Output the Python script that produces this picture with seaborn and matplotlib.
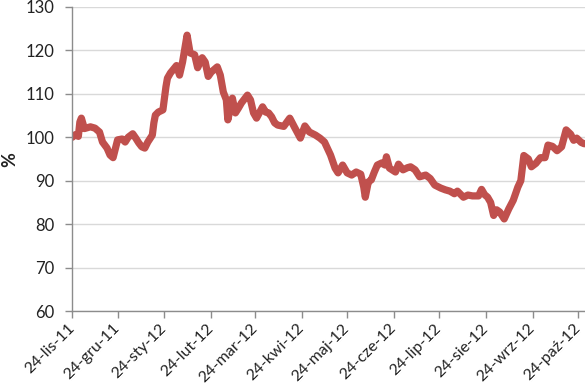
import pandas as pd
import matplotlib.pyplot as plt
import seaborn as sns

sns.set_theme(style="white")
plt.rcParams['font.family'] = ['Lato', 'DejaVu Sans']

# dane (indeks, %)
dates = [
    "2011-11-24", "2011-11-26", "2011-11-28", "2011-11-29", "2011-11-30",
    "2011-12-02", "2011-12-06", "2011-12-09", "2011-12-12", "2011-12-14",
    "2011-12-17", "2011-12-19", "2011-12-21", "2011-12-24", "2011-12-27",
    "2011-12-29", "2011-12-31", "2012-01-03", "2012-01-05", "2012-01-07",
    "2012-01-09", "2012-01-11", "2012-01-13", "2012-01-16", "2012-01-17",
    "2012-01-18", "2012-01-20", "2012-01-23", "2012-01-25", "2012-01-26",
    "2012-01-28", "2012-02-01", "2012-02-03", "2012-02-05", "2012-02-08",
    "2012-02-10", "2012-02-13", "2012-02-15", "2012-02-18", "2012-02-20",
    "2012-02-22", "2012-02-24", "2012-02-28", "2012-03-01", "2012-03-03",
    "2012-03-05", "2012-03-06", "2012-03-09", "2012-03-11", "2012-03-13",
    "2012-03-15", "2012-03-19", "2012-03-21", "2012-03-23", "2012-03-25",
    "2012-03-29", "2012-03-31", "2012-04-02", "2012-04-04", "2012-04-06",
    "2012-04-08", "2012-04-12", "2012-04-16", "2012-04-19", "2012-04-23",
    "2012-04-26", "2012-04-29", "2012-05-03", "2012-05-06", "2012-05-09",
    "2012-05-13", "2012-05-16", "2012-05-18", "2012-05-21", "2012-05-24",
    "2012-05-27", "2012-05-30", "2012-06-02", "2012-06-04", "2012-06-05",
    "2012-06-07", "2012-06-09", "2012-06-11", "2012-06-13", "2012-06-16",
    "2012-06-18", "2012-06-19", "2012-06-21", "2012-06-25", "2012-06-27",
    "2012-06-30", "2012-07-03", "2012-07-05", "2012-07-08", "2012-07-11",
    "2012-07-15", "2012-07-18", "2012-07-21", "2012-07-25", "2012-07-28",
    "2012-07-31", "2012-08-03", "2012-08-05", "2012-08-09", "2012-08-12",
    "2012-08-15", "2012-08-19", "2012-08-21", "2012-08-23", "2012-08-25",
    "2012-08-27", "2012-08-29", "2012-08-31", "2012-09-02", "2012-09-05",
    "2012-09-08", "2012-09-11", "2012-09-14", "2012-09-16", "2012-09-18",
    "2012-09-21", "2012-09-23", "2012-09-26", "2012-09-29", "2012-10-02",
    "2012-10-04", "2012-10-07", "2012-10-10", "2012-10-13", "2012-10-16",
    "2012-10-19", "2012-10-21", "2012-10-23", "2012-10-26", "2012-10-28",
]
values = [
    100.0, 100.6, 100.2, 103.5, 104.4,
    102.0, 102.4, 102.1, 101.2, 98.9,
    97.5, 95.9, 95.3, 99.4, 99.6,
    98.9, 100.0, 100.8, 99.8, 98.7,
    97.8, 97.5, 98.9, 100.5, 103.3,
    105.1, 105.8, 106.3, 111.6, 113.6,
    114.8, 116.5, 114.3, 117.3, 123.5,
    119.4, 119.0, 116.0, 118.3, 117.3,
    114.0, 115.0, 116.2, 114.3, 110.4,
    108.6, 104.0, 109.0, 105.6, 106.7,
    107.9, 109.7, 108.6, 105.6, 104.4,
    107.0, 105.8, 105.6, 104.7, 103.3,
    102.8, 102.5, 104.4, 102.4, 99.8,
    102.6, 101.2, 100.5, 99.8, 98.9,
    95.9, 92.9, 91.8, 93.6, 91.8,
    91.3, 92.0, 91.5, 88.5, 86.2,
    89.7, 90.2, 92.0, 93.6, 94.1,
    93.6, 95.5, 92.9, 92.0, 93.8,
    92.5, 93.0, 93.2, 92.5, 90.9,
    91.3, 90.5, 89.0, 88.3, 87.9,
    87.6, 87.0, 87.6, 86.2, 86.7,
    86.5, 86.5, 88.0, 86.8, 86.2,
    85.0, 82.0, 83.3, 82.8, 81.2,
    83.5, 85.5, 88.5, 90.0, 95.8,
    95.0, 93.2, 94.0, 95.3, 95.3,
    98.2, 97.9, 96.9, 97.8, 101.7,
    100.7, 99.3, 99.8, 98.8, 98.5,
]

tick_dates = ["2011-11-24", "2011-12-24", "2012-01-24", "2012-02-24",
              "2012-03-24", "2012-04-24", "2012-05-24", "2012-06-24",
              "2012-07-24", "2012-08-24", "2012-09-24", "2012-10-24"]
tick_labels = ["24-lis-11", "24-gru-11", "24-sty-12", "24-lut-12",
               "24-mar-12", "24-kwi-12", "24-maj-12", "24-cze-12",
               "24-lip-12", "24-sie-12", "24-wrz-12", "24-paź-12"]
y_ticks = [60, 70, 80, 90, 100, 110, 120, 130]

df = pd.DataFrame({'data': pd.to_datetime(dates), 'wartosc': values})

fig = plt.figure(figsize=(5.85, 3.84), dpi=100)
ax = fig.add_axes([0.1236, 0.19, 0.8764, 0.792])

sns.lineplot(data=df, x='data', y='wartosc', ax=ax, color='#C0504D',
             linewidth=5.2, solid_joinstyle='round', solid_capstyle='round')

ax.set_xlim(pd.Timestamp("2011-11-24"), pd.Timestamp("2012-10-28 12:00"))
ax.set_ylim(60, 130)
ax.set_yticks(y_ticks)
ax.set_xticks(pd.to_datetime(tick_dates))
ax.set_xticklabels(tick_labels, rotation=45, ha='right', va='center',
                   rotation_mode='anchor', fontsize=11.5, color='#222222')
ax.tick_params(axis='x', pad=6)
ax.tick_params(axis='y', labelsize=12, labelcolor='#222222', pad=8)
ax.tick_params(axis='both', direction='out', length=5, width=1, color='#8c8c8c',
               left=True, bottom=True)

ax.yaxis.grid(True, color='#d9d9d9', linewidth=1)
ax.set_axisbelow(True)
for side in ['top', 'right']:
    ax.spines[side].set_visible(False)
for side in ['left', 'bottom']:
    ax.spines[side].set_color('#8c8c8c')
    ax.spines[side].set_linewidth(1)

ax.set_xlabel("")
ax.set_ylabel("%", fontsize=13, fontweight='bold', color='#222222')
ax.yaxis.set_label_coords(-0.105, 0.497)

fig.savefig("out.png", dpi=100)
